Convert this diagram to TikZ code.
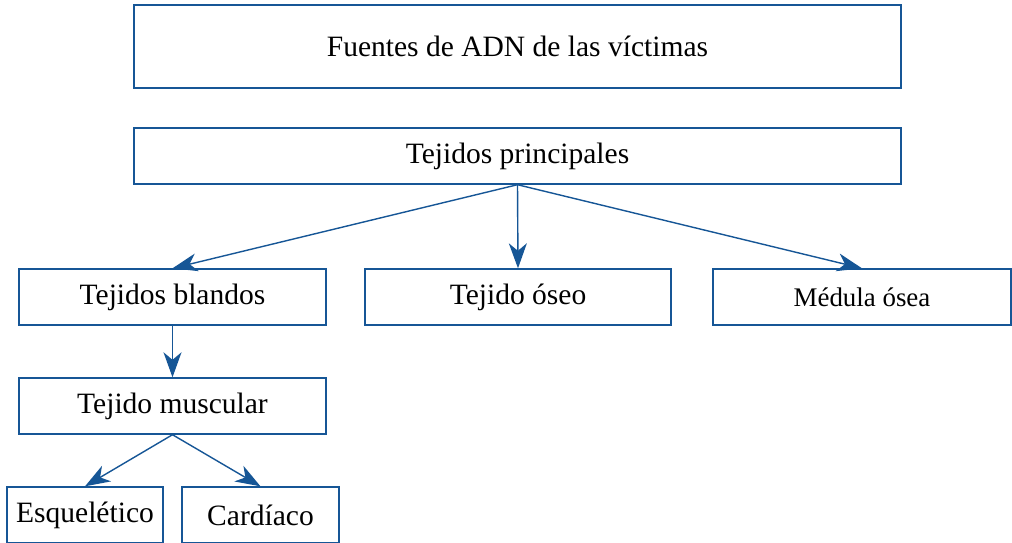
\documentclass[tikz,border=0pt]{standalone}
\usepackage{fontspec}
\setmainfont{Liberation Serif}
\usetikzlibrary{arrows.meta}
\definecolor{azul}{RGB}{22,86,150}
\tikzset{caja/.style={draw=azul,line width=0.8pt,minimum height=1.12cm,
  inner sep=0pt,font=\fontsize{16.8}{20}\selectfont},
  flecha/.style={draw=azul,line width=0.8pt,-{Stealth[length=0.5cm,width=0.36cm,inset=0.15cm]}}}
\begin{document}
\begin{tikzpicture}
\useasboundingbox (0,0) rectangle (20.24,-10.84);
\node [caja,minimum width=15.34cm,minimum height=1.66cm] (fuentes) at (10.35,-0.93) {Fuentes de ADN de las víctimas};
\node [caja,minimum width=15.34cm] (principales) at (10.35,-3.12) {Tejidos principales};
\node [caja,minimum width=6.14cm] (blandos) at (3.45,-5.94) {Tejidos blandos};
\node [caja,minimum width=6.12cm] (oseo) at (10.36,-5.94) {Tejido óseo};
\node [caja,minimum width=5.96cm,font=\fontsize{15.3}{18}\selectfont] (medula) at (17.24,-5.94) {Médula ósea};
\node [caja,minimum width=6.14cm] (muscular) at (3.45,-8.12) {Tejido muscular};
\node [caja,minimum width=3.12cm] (esqueletico) at (1.70,-10.30) {Esquelético};
\node [caja,minimum width=3.14cm] (cardiaco) at (5.21,-10.30) {Cardíaco};
\draw [flecha] (principales.south) -- (blandos.north);
\draw [flecha] (principales.south) -- (oseo.north);
\draw [flecha] (principales.south) -- (medula.north);
\draw [flecha] (blandos.south) -- (muscular.north);
\draw [flecha] (muscular.south) -- (esqueletico.north);
\draw [flecha] (muscular.south) -- (cardiaco.north);
\end{tikzpicture}
\end{document}
